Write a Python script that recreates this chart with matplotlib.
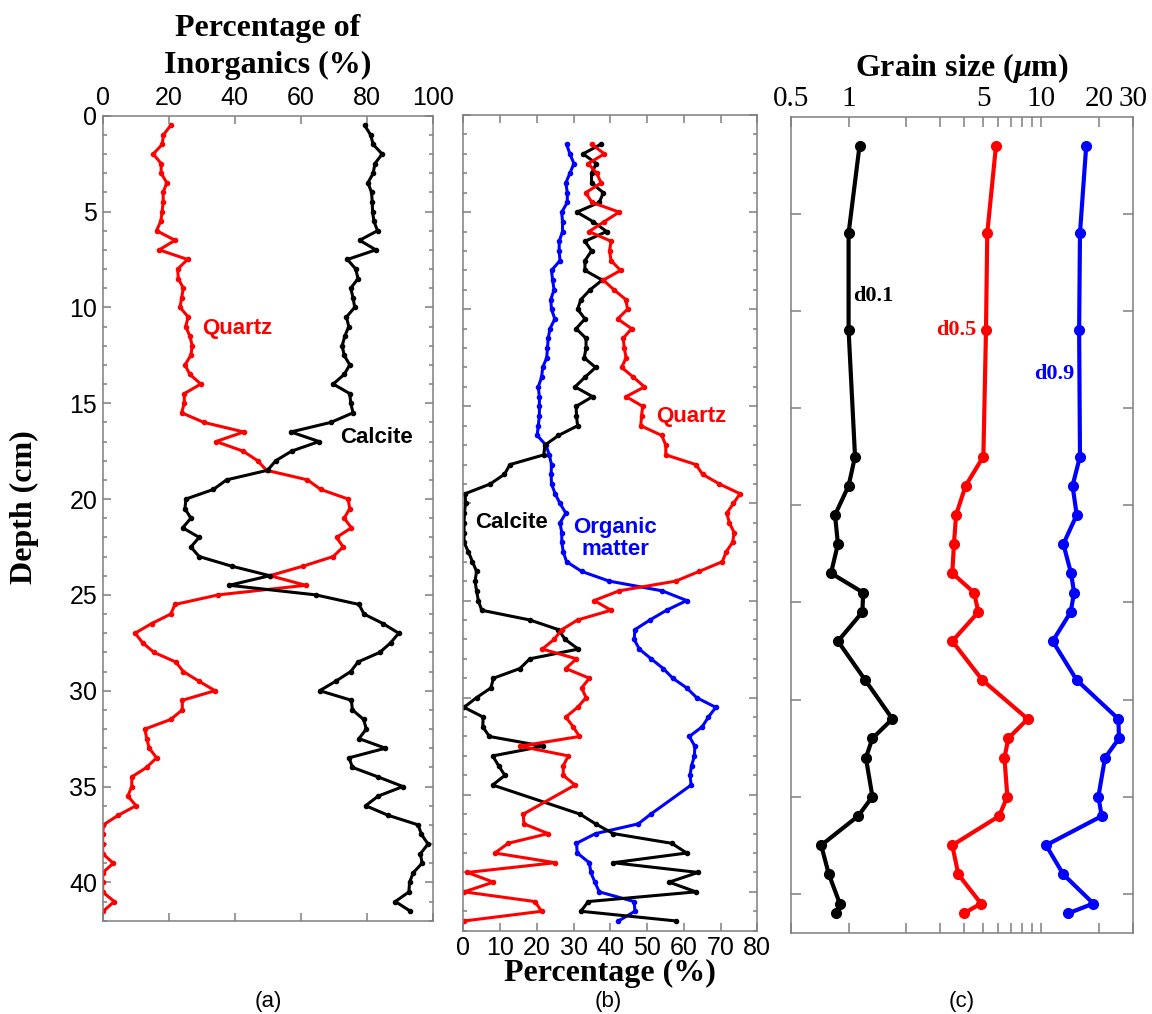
import matplotlib
matplotlib.use("Agg")
import matplotlib.pyplot as plt
from matplotlib.ticker import MultipleLocator, FixedLocator, NullFormatter

plt.rcParams["font.family"] = ["Liberation Sans", "DejaVu Sans"]
plt.rcParams["mathtext.fontset"] = "custom"
plt.rcParams["mathtext.rm"] = "Liberation Serif:bold"
plt.rcParams["mathtext.it"] = "Liberation Serif:italic:bold"

# ---- (a) inorganic fraction, sampled every 0.5 cm ----
depth_a = [0.5 * i for i in range(1, 84)]
quartz_a = [
    20.6, 18.4, 18.0, 15.3, 17.7, 17.7, 19.4, 18.3, 18.3, 18.0,
    17.6, 16.3, 21.9, 17.1, 25.7, 22.7, 22.9, 24.4, 23.9, 23.4,
    25.9, 25.1, 26.4, 27.1, 26.7, 24.9, 26.4, 29.7, 24.7, 24.7,
    23.9, 30.6, 42.7, 34.3, 42.5, 46.9, 49.6, 62.0, 66.0, 74.3,
    74.8, 73.1, 75.3, 70.8, 72.8, 69.8, 60.7, 50.6, 61.5, 35.0,
    21.9, 20.6, 14.8, 9.8, 12.1, 15.5, 22.1, 24.4, 29.1, 34.0,
    24.1, 24.1, 20.6, 12.8, 13.3, 14.1, 16.3, 13.3, 8.8, 8.8,
    7.6, 10.1, 4.7, 0.2, 0.0, 0.0, 0.0, 3.2, 0.0, 0.0,
    0.0, 3.5, 0.2,
]
calcite_a = [
    79.3, 81.1, 81.9, 84.6, 82.4, 81.9, 80.3, 81.4, 81.6, 81.7,
    82.1, 83.2, 77.8, 82.7, 74.1, 76.6, 77.3, 75.1, 75.8, 76.3,
    73.8, 74.5, 73.3, 72.5, 73.1, 74.8, 73.1, 69.8, 74.8, 75.1,
    75.8, 69.1, 57.0, 65.5, 57.2, 52.4, 49.9, 37.5, 33.5, 25.2,
    24.9, 26.7, 24.2, 29.2, 26.7, 29.2, 39.0, 50.6, 38.3, 64.5,
    77.6, 79.1, 84.9, 89.6, 87.2, 83.9, 77.3, 75.1, 70.6, 65.7,
    75.3, 75.6, 79.0, 79.8, 77.6, 85.6, 74.6, 75.6, 83.4, 90.9,
    83.4, 79.6, 86.4, 95.5, 96.5, 98.5, 96.2, 96.7, 94.0, 92.9,
    92.7, 88.6, 93.1,
]

# ---- (b) composition incl. organic matter (no samples at 35-35.5 cm) ----
depth_b = [0.5 * i for i in range(3, 70)] + [0.5 * i for i in range(72, 84)]
quartz_b = [
    34.9, 38.4, 34.0, 36.3, 37.5, 33.3, 35.0, 42.4, 38.3, 34.2,
    40.2, 39.8, 40.2, 42.8, 38.1, 41.0, 44.2, 44.7, 42.0, 45.8,
    43.5, 43.8, 44.3, 43.1, 46.3, 49.3, 44.3, 48.8, 48.5, 48.3,
    54.0, 55.1, 55.1, 63.3, 65.1, 69.7, 75.3, 73.5, 71.7, 72.4,
    73.7, 73.3, 71.5, 70.5, 64.2, 57.8, 42.4, 35.6, 40.2, 31.1,
    26.8, 24.7, 21.5, 30.8, 27.9, 34.3, 32.2, 33.4, 31.1, 27.9,
    29.9, 31.6, 15.4, 28.6, 27.2, 27.2, 30.4,
    16.3, 16.5, 23.1, 12.2, 8.6, 25.0, 1.1, 8.2, 0.2, 19.5,
    21.3, 0.2,
]
calcite_b = [
    37.5, 32.6, 36.2, 34.9, 34.9, 38.1, 37.0, 30.9, 35.4, 39.0,
    33.1, 34.9, 33.1, 33.1, 37.8, 34.5, 32.0, 31.1, 33.1, 30.7,
    33.4, 33.4, 32.9, 36.0, 33.1, 30.4, 35.2, 30.7, 30.8, 31.1,
    25.9, 22.2, 21.9, 12.7, 11.2, 7.3, 0.5, 0.6, 0.3, 0.2,
    0.2, 0.2, 1.4, 2.5, 3.6, 3.2, 3.6, 4.1, 5.0, 18.1,
    25.9, 27.7, 31.3, 18.1, 15.4, 8.2, 7.5, 3.6, 0.2, 5.4,
    5.3, 7.1, 21.8, 8.0, 9.6, 11.3, 8.0,
    31.8, 36.0, 40.8, 56.7, 60.8, 40.8, 63.9, 56.0, 63.3, 34.0,
    32.0, 58.0,
]
organic_b = [
    28.1, 29.0, 30.1, 29.0, 27.9, 28.3, 28.3, 26.8, 27.0, 27.0,
    26.1, 26.1, 26.3, 24.0, 24.3, 24.7, 23.8, 24.0, 24.9, 23.6,
    23.1, 22.9, 22.7, 21.6, 21.3, 20.4, 20.7, 20.7, 20.7, 20.4,
    20.1, 22.5, 23.4, 24.0, 23.9, 24.0, 25.0, 26.3, 27.9, 26.3,
    26.8, 26.8, 27.2, 28.1, 32.2, 39.7, 54.1, 60.8, 55.3, 50.8,
    46.7, 46.5, 47.9, 51.1, 54.4, 57.0, 60.8, 63.5, 68.7, 66.7,
    65.0, 61.5, 63.0, 62.9, 62.1, 61.7, 62.0,
    51.0, 47.6, 36.0, 30.8, 31.0, 34.3, 34.7, 35.8, 37.0, 46.5,
    46.7, 42.2,
]

# ---- (c) grain size percentiles (um) ----
depth_c = [1.5, 6.0, 11.0, 17.5, 19.0, 20.5, 22.0, 23.5, 24.5, 25.5, 27.0,
           29.0, 31.0, 32.0, 33.0, 35.0, 36.0, 37.5, 39.0, 40.5, 41.0]
d01 = [1.14, 1.00, 1.00, 1.08, 1.00, 0.85, 0.88, 0.81, 1.19, 1.18, 0.88,
       1.22, 1.69, 1.33, 1.23, 1.33, 1.12, 0.72, 0.79, 0.90, 0.86]
d05 = [5.84, 5.26, 5.18, 5.02, 4.06, 3.62, 3.53, 3.46, 4.49, 4.73, 3.46,
       4.96, 8.53, 6.77, 6.46, 6.69, 6.06, 3.46, 3.72, 4.88, 3.98]
d09 = [17.2, 15.96, 15.8, 15.96, 14.6, 15.35, 13.08, 14.34, 14.87, 14.28, 11.51,
       15.35, 25.27, 25.47, 21.54, 19.89, 20.70, 10.63, 13.08, 18.73, 13.89]

FRAME = "#7f7f7f"
SERIF = "Liberation Serif"
W, H = 1152, 1014


def box(left, top, right, bottom):
    """axes rectangle from pixel edges"""
    return [left / W, 1 - bottom / H, (right - left) / W, (bottom - top) / H]


def style_axes(ax):
    for s in ax.spines.values():
        s.set_color(FRAME)
        s.set_linewidth(1.1)
    ax.tick_params(which="both", direction="in", color=FRAME, width=1.1,
                   top=True, bottom=True, left=True, right=True)
    ax.tick_params(which="major", length=5.5)
    ax.tick_params(which="minor", length=2.6)


fig = plt.figure(figsize=(11.52, 10.14), dpi=100)

# (a)
ax1 = fig.add_axes(box(102.7, 115.7, 433, 920.7))
ax1.plot(quartz_a, depth_a, "o-", color="red", lw=2.2, ms=3)
ax1.plot(calcite_a, depth_a, "o-", color="black", lw=2.2, ms=3)
ax1.set_xlim(0, 100)
ax1.set_ylim(42, 0)
ax1.set_xticks(range(0, 101, 20))
ax1.set_yticks(range(0, 41, 5))
ax1.yaxis.set_minor_locator(MultipleLocator(1))
style_axes(ax1)
ax1.tick_params(labeltop=True, labelbottom=False, labelsize=18, pad=4)
ax1.text(30, 11.1, "Quartz", color="red", fontsize=16, fontweight="bold", va="center")
ax1.text(72, 16.8, "Calcite", color="black", fontsize=16, fontweight="bold", va="center")
fig.text(267.9 / W, 1 - 47 / H, "Percentage of\nInorganics (%)", family=SERIF,
         fontweight="bold", fontsize=23, ha="center", va="center", linespacing=1.4)
fig.text(24 / W, 1 - 507 / H, "Depth (cm)", family=SERIF, fontweight="bold",
         fontsize=23, rotation=90, ha="center", va="center")

# (b)
ax2 = fig.add_axes(box(463.3, 115, 757.3, 930.7))
ax2.plot(organic_b, depth_b, "o-", color="blue", lw=2.2, ms=3)
ax2.plot(calcite_b, depth_b, "o-", color="black", lw=2.2, ms=3)
ax2.plot(quartz_b, depth_b, "o-", color="red", lw=2.2, ms=3)
ax2.set_xlim(0, 80)
ax2.set_ylim(42, 0)
ax2.set_xticks(range(0, 81, 10))
ax2.set_yticks(range(0, 41, 5))
ax2.yaxis.set_minor_locator(MultipleLocator(1))
style_axes(ax2)
ax2.tick_params(labelleft=False, labelsize=18, pad=4)
ax2.set_xlabel("Percentage (%)", family=SERIF, fontweight="bold", fontsize=23, labelpad=-1)
ax2.text(52.6, 15.5, "Quartz", color="red", fontsize=16, fontweight="bold", va="center")
ax2.text(3.2, 21.0, "Calcite", color="black", fontsize=16, fontweight="bold", va="center")
ax2.text(41.3, 21.8, "Organic\nmatter", color="blue", fontsize=16, fontweight="bold",
         ha="center", va="center", linespacing=1.1)

# (c)
ax3 = fig.add_axes(box(790.7, 116.5, 1132.7, 932.7))
ax3.plot(d01, depth_c, "o-", color="black", lw=3, ms=7)
ax3.plot(d05, depth_c, "o-", color="red", lw=3, ms=7)
ax3.plot(d09, depth_c, "o-", color="blue", lw=3, ms=7)
ax3.set_xscale("log")
ax3.set_xlim(0.5, 30)
ax3.set_ylim(42, 0)
ax3.xaxis.set_major_locator(FixedLocator([0.5, 1, 5, 10, 20, 30]))
ax3.set_xticklabels(["0.5", "1", "5", "10", "20", "30"], family=SERIF, fontsize=21)
ax3.xaxis.set_minor_locator(FixedLocator([2, 3, 4, 6, 7, 8, 9]))
ax3.xaxis.set_minor_formatter(NullFormatter())
ax3.set_yticks(range(5, 41, 5))
ax3.yaxis.set_minor_locator(FixedLocator([]))
style_axes(ax3)
ax3.tick_params(which="major", length=7)
ax3.tick_params(which="minor", length=7)
ax3.tick_params(labeltop=True, labelbottom=False, labelleft=False, pad=3)
ax3.text(1.05, 9.25, "d0.1", color="black", family=SERIF, fontsize=16,
         fontweight="bold", va="center")
ax3.text(4.63, 11.0, "d0.5", color="red", family=SERIF, fontsize=16,
         fontweight="bold", va="center", ha="right")
ax3.text(15.0, 13.25, "d0.9", color="blue", family=SERIF, fontsize=16,
         fontweight="bold", va="center", ha="right")
fig.text(961.7 / W, 1 - 68 / H, r"Grain size ($\mathit{\mu}$m)", family=SERIF,
         fontweight="bold", fontsize=23, ha="center", va="center")

# panel tags
for xp, tag in [(267.9, "(a)"), (608, "(b)"), (961.7, "(c)")]:
    fig.text(xp / W, 1 - 1002 / H, tag, fontsize=16, ha="center", va="center")

fig.savefig("out.png", dpi=100)
